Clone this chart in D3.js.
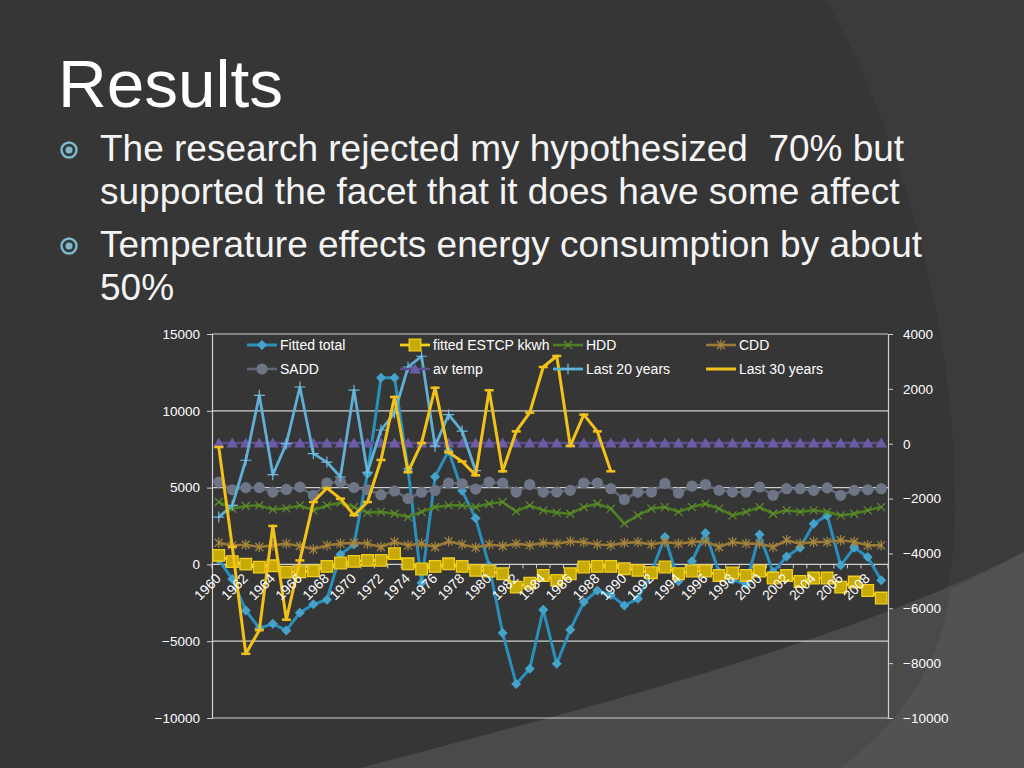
<!DOCTYPE html>
<html>
<head>
<meta charset="utf-8">
<script src="https://cdn.jsdelivr.net/npm/d3@7"></script>
<style>
  html, body { margin: 0; padding: 0; background: #363636; }
  svg { display: block; }
  text { font-family: "Liberation Sans", Arial, sans-serif; white-space: pre; }
</style>
</head>
<body>
<svg id="chart" width="1024" height="768"></svg>
<script>
// ---------------- DATA ----------------
const years = [1960,1961,1962,1963,1964,1965,1966,1967,1968,1969,
               1970,1971,1972,1973,1974,1975,1976,1977,1978,1979,
               1980,1981,1982,1983,1984,1985,1986,1987,1988,1989,
               1990,1991,1992,1993,1994,1995,1996,1997,1998,1999,
               2000,2001,2002,2003,2004,2005,2006,2007,2008,2009];

const fittedTotal = [300,-950,-3000,-4150,-3870,-4300,-3150,-2600,-2300,650,
                     1300,5900,12150,12150,6200,-1200,5700,7400,4800,3000,
                     -100,-4470,-7780,-6800,-2950,-6470,-4250,-2450,-1700,-2000,
                     -2670,-2240,-500,1780,-1100,200,2050,-500,-1000,-1300,
                     1950,-500,520,1090,2650,3190,-60,1090,480,-1040];

const fittedESTCP = [590,180,20,-180,-90,-500,-480,-420,-130,90,
                     200,260,260,700,40,-300,-130,40,-130,-390,
                     -430,-610,-1480,-1220,-720,-1040,-610,-170,-130,-130,
                     -280,-390,-540,-170,-610,-430,-430,-720,-560,-720,
                     -430,-890,-720,-1110,-890,-890,-1480,-1150,-1700,-2190];

const hdd = [4060,3630,3800,3840,3580,3650,3840,3520,3840,4020,
             3730,3370,3420,3300,3080,3420,3730,3840,3840,3730,
             3950,4060,3450,3840,3520,3370,3300,3730,3950,3630,
             2650,3190,3630,3730,3420,3730,3950,3630,3190,3420,
             3730,3300,3520,3420,3520,3420,3190,3300,3520,3730];

const cdd = [1410,1240,1280,1130,1240,1350,1200,980,1240,1350,
             1410,1350,1130,1460,1240,1350,1130,1500,1300,1100,
             1300,1200,1350,1250,1400,1350,1500,1450,1300,1250,
             1400,1450,1300,1460,1350,1460,1500,1130,1460,1350,
             1350,1130,1570,1350,1460,1460,1570,1460,1240,1240];

const sadd = [5360,4860,5000,5000,4710,4880,5040,4500,5300,5360,
              5000,4860,4540,4780,4280,4700,4820,5300,5250,4900,
              5360,5300,4710,5200,4710,4710,4820,5300,5300,4930,
              4230,4710,4710,5270,4650,5100,5200,4820,4710,4710,
              5040,4500,4930,4930,4820,4980,4500,4820,4860,4930];

const avTemp = [7900,7900,7900,7900,7900,7900,7900,7900,7900,7900,
                7900,7900,7900,7900,7900,7900,7900,7900,7900,7900,
                7900,7900,7900,7900,7900,7900,7900,7900,7900,7900,
                7900,7900,7900,7900,7900,7900,7900,7900,7900,7900,
                7900,7900,7900,7900,7900,7900,7900,7900,7900,7900];

const last20 = [3080,3840,6780,11010,5840,7860,11550,7210,6660,5690,
                11340,6000,8750,9850,12850,13550,7700,9750,8680,6100,
                null,null,null,null,null,null,null,null,null,null,
                null,null,null,null,null,null,null,null,null,null,
                null,null,null,null,null,null,null,null,null,null];

const last30 = [7640,1150,-5820,-4280,2500,-3600,260,4060,4970,4280,
                3200,4060,6800,10900,6000,7900,11500,7300,6700,5800,
                11340,6060,8660,9880,12850,13570,7710,9750,8660,6060,
                null,null,null,null,null,null,null,null,null,null,
                null,null,null,null,null,null,null,null,null,null];

const leftTicks = [-10000,-5000,0,5000,10000,15000];
const rightTicks = [-10000,-8000,-6000,-4000,-2000,0,2000,4000];
const gridValues = [15000,10000,5000,-5000,-10000];

const titleText = "Results";
const bulletLines = [
  ["The research rejected my hypothesized  70% but", "supported the facet that it does have some affect"],
  ["Temperature effects energy consumption by about", "50%"]
];

// ---------------- DRAW ----------------
const svg = d3.select("#chart");

// background
svg.append("rect").attr("width",1024).attr("height",768).attr("fill","#363636");
svg.append("path").attr("d","M826,0 C900,130 958,330 955,520 C950,640 905,720 840,768 L1024,768 L1024,0 Z").attr("fill","#3b3b3b");
svg.append("path").attr("d","M360,768 C600,705 850,640 1024,552 L1024,768 Z").attr("fill","#4a4a4a");
svg.append("path").attr("d","M1024,552 C1000,565 975,578 950,590 C942,660 905,720 840,768 L1024,768 Z").attr("fill","#525252");

// title
svg.append("text").attr("x",58).attr("y",107).attr("font-size",67.5).attr("fill","#ffffff").text(titleText);

// bullets
const bulletBase = [161, 257];
bulletLines.forEach((lines, bi) => {
  const by = bulletBase[bi];
  const g = svg.append("g");
  g.append("circle").attr("cx",69).attr("cy",by-11).attr("r",7.5).attr("fill","#2c3c40").attr("stroke","#7fb8c9").attr("stroke-width",2.4);
  g.append("circle").attr("cx",69).attr("cy",by-11).attr("r",3.5).attr("fill","#7fb8c9");
  lines.forEach((ln, li) => {
    g.append("text").attr("x",100).attr("y",by + li*43).attr("font-size",37).attr("fill","#f4f4f4").text(ln);
  });
});

// plot geometry
const L = 212, R = 888, T = 334, B = 718;
const x = d3.scalePoint().domain(years).range([L, R]).padding(0.5);
const y = d3.scaleLinear().domain([-10000, 15000]).range([B, T]);
const y2 = d3.scaleLinear().domain([-10000, 4000]).range([B, T]);
const axisColor = "#cfcfcf";

// gridlines
svg.append("g").selectAll("line").data(gridValues).join("line")
  .attr("x1",L).attr("x2",R).attr("y1",d=>y(d)).attr("y2",d=>y(d))
  .attr("stroke",axisColor).attr("stroke-width",1.2);

// left axis
const gl = svg.append("g").attr("transform",`translate(${L},0)`)
  .call(d3.axisLeft(y).tickValues(leftTicks).tickSize(5).tickPadding(7).tickFormat(d3.format("d")));
// right axis
const gr = svg.append("g").attr("transform",`translate(${R},0)`)
  .call(d3.axisRight(y2).tickValues(rightTicks).tickSize(5).tickPadding(10).tickFormat(d3.format("d")));
[gl, gr].forEach(g => {
  g.selectAll("path.domain").attr("stroke",axisColor).attr("stroke-width",1.2);
  g.selectAll(".tick line").attr("stroke",axisColor);
  g.selectAll(".tick text").attr("fill","#ffffff").attr("font-size",13.5)
    .attr("font-family","'Liberation Sans', Arial, sans-serif");
});

// x axis at 0
const y0 = y(0);
const step = x.step();
svg.append("line").attr("x1",L).attr("x2",R).attr("y1",y0).attr("y2",y0).attr("stroke",axisColor).attr("stroke-width",1.2);
svg.append("g").selectAll("line").data(d3.range(years.length+1)).join("line")
  .attr("x1",i=>L+i*step).attr("x2",i=>L+i*step).attr("y1",y0).attr("y2",y0+4)
  .attr("stroke",axisColor);

// series definitions
const sym = {
  diamond: r => `M0,${-r}L${r},0L0,${r}L${-r},0Z`,
  square: r => `M${-r},${-r}H${r}V${r}H${-r}Z`,
  triangle: r => `M0,${-r}L${r*1.05},${r*0.8}L${-r*1.05},${r*0.8}Z`,
  circle: r => d3.symbol(d3.symbolCircle, Math.PI*r*r)(),
  times: r => `M${-r},${-r}L${r},${r}M${-r},${r}L${r},${-r}`,
  star: r => `M${-r},${-r}L${r},${r}M${-r},${r}L${r},${-r}M0,${-r*1.3}L0,${r*1.3}`,
  plus: r => `M${-r},0H${r}M0,${-r}V${r}`,
  dash: r => `M${-r},0H${r}`
};

const series = [
  {name:"Fitted total", values:fittedTotal, color:"#2a8fba", width:3, marker:"diamond", r:5, fill:"#45a3cb", stroke:"none", mw:0},
  {name:"fitted ESTCP kkwh", values:fittedESTCP, color:"#f2d01a", width:2.8, marker:"square", r:5.8, fill:"#c7aa06", stroke:"#f2d01a", mw:1.3},
  {name:"HDD", values:hdd, color:"#4e7d24", width:2.6, marker:"times", r:4, fill:"none", stroke:"#5e8f2c", mw:1.2},
  {name:"CDD", values:cdd, color:"#9a7a38", width:2.6, marker:"star", r:4, fill:"none", stroke:"#a8883f", mw:1.2},
  {name:"SADD", values:sadd, color:"#5f6776", width:2.6, marker:"circle", r:5.6, fill:"#6d7587", stroke:"none", mw:0},
  {name:"av temp", values:avTemp, color:"#5c4f8f", width:2.6, marker:"triangle", r:5.5, fill:"#6c5ca6", stroke:"none", mw:0},
  {name:"Last 20 years", values:last20, color:"#5fb0d4", width:2.8, marker:"plus", r:5.5, fill:"none", stroke:"#6fbbe0", mw:1.2},
  {name:"Last 30 years", values:last30, color:"#f2c21b", width:3, marker:"dash", r:4.5, fill:"none", stroke:"#f2c21b", mw:2.5}
];

const line = d3.line().defined(d => d.v !== null).x(d => x(d.yr)).y(d => y(d.v));

series.forEach(s => {
  const pts = years.map((yr,i) => ({yr, v: s.values[i]}));
  const g = svg.append("g");
  g.append("path").datum(pts).attr("d", line).attr("fill","none")
    .attr("stroke", s.color).attr("stroke-width", s.width).attr("stroke-linejoin","round");
  g.selectAll("path.m").data(pts.filter(d => d.v !== null)).join("path").attr("class","m")
    .attr("transform", d => `translate(${x(d.yr)},${y(d.v)})`)
    .attr("d", sym[s.marker](s.r))
    .attr("fill", s.fill).attr("stroke", s.stroke).attr("stroke-width", s.mw);
});

// year labels
svg.append("g").selectAll("text").data(years.filter((d,i) => i % 2 === 0)).join("text")
  .attr("transform", d => `translate(${x(d)+3},${y0+15}) rotate(-45)`)
  .attr("text-anchor","end").attr("font-size",13.8).attr("fill","#ffffff").text(d => d);

// legend
const legCols = [247, 400, 553, 706];
const legRows = [345, 369];
series.forEach((s, i) => {
  const cx = legCols[i % 4], cy = legRows[Math.floor(i / 4)];
  const g = svg.append("g");
  g.append("line").attr("x1",cx).attr("x2",cx+30).attr("y1",cy).attr("y2",cy)
    .attr("stroke", s.color).attr("stroke-width", s.width);
  if (s.marker !== "dash") {
    g.append("path").attr("transform",`translate(${cx+15},${cy})`).attr("d", sym[s.marker](s.r))
      .attr("fill", s.fill).attr("stroke", s.stroke).attr("stroke-width", s.mw);
  }
  g.append("text").attr("x", cx+33).attr("y", cy+5).attr("font-size",14).attr("fill","#ffffff").text(s.name);
});
</script>
</body>
</html>
